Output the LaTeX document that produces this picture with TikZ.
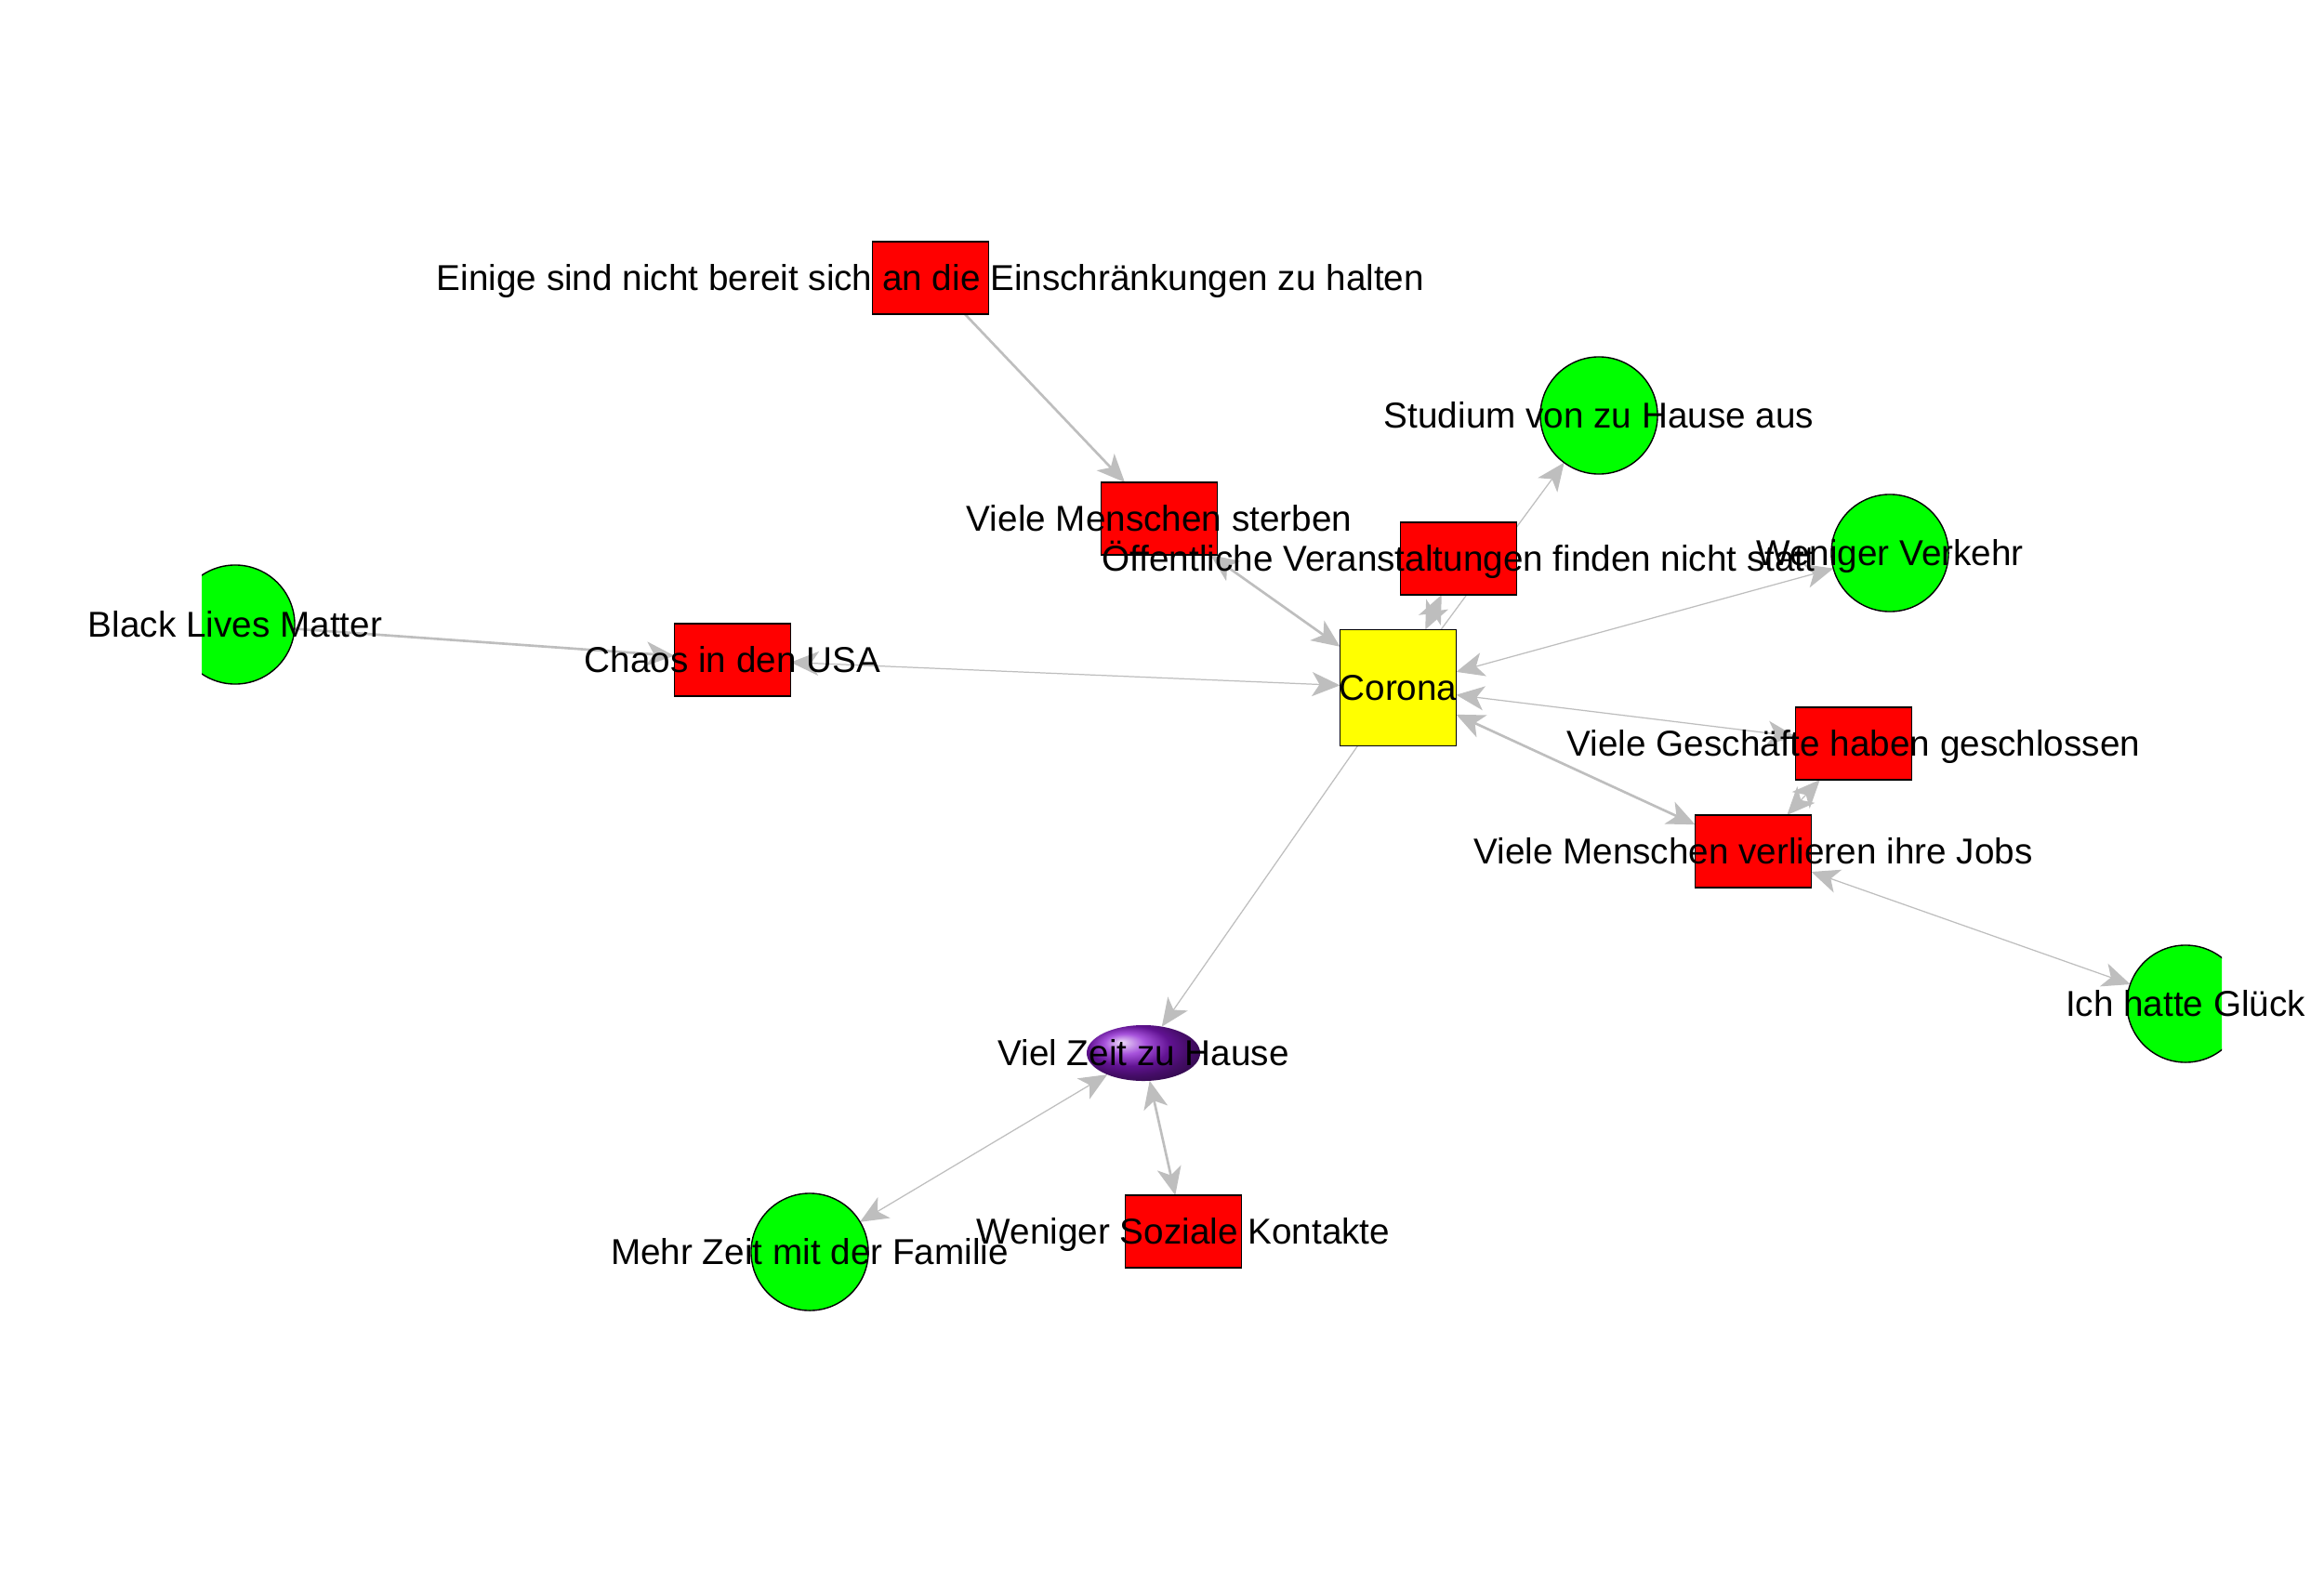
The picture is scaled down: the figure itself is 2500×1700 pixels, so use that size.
\documentclass[tikz,border=0pt]{standalone}
\usepackage{fontspec}
\setmainfont{Liberation Sans}
\usepackage{tikz}
\usetikzlibrary{arrows.meta,shapes.geometric,backgrounds}
\definecolor{edgegray}{HTML}{BEBEBE}
\definecolor{boxred}{HTML}{FF0000}
\definecolor{ballgreen}{HTML}{00FF00}
\definecolor{coronay}{HTML}{FFFF00}
\definecolor{sphere}{HTML}{8A1AD0}
\tikzset{
  vtx/.style={draw=black, line width=.4pt, inner sep=0pt, outer sep=0pt},
  boxr/.style={vtx, rectangle, fill=boxred, minimum width=1.25cm, minimum height=.78cm},
  boxy/.style={vtx, rectangle, fill=coronay, minimum width=1.25cm, minimum height=1.25cm},
  circg/.style={vtx, circle, fill=ballgreen, minimum size=1.26cm},
  sph/.style={ellipse, inner sep=0pt, outer sep=0pt, minimum width=1.22cm, minimum height=.6cm, ball color=sphere},
  txt/.style={font=\fontsize{11}{13}\selectfont, inner sep=0pt, text height=7.9pt, text depth=0pt},
  ar/.style={-{Stealth[length=3mm, width=2.6mm, inset=.8mm]}, draw=edgegray, line width=.35pt},
  arw/.style={ar, line width=.75pt},
  dar/.style={{Stealth[length=3mm, width=2.6mm, inset=.8mm]}-{Stealth[length=3mm, width=2.6mm, inset=.8mm]}, draw=edgegray, line width=.35pt},
  darw/.style={dar, line width=.75pt},
}
\begin{document}
\begin{tikzpicture}[x=0.01cm, y=-0.01cm]
    \useasboundingbox (0,0) rectangle (2500,1700);
    \begin{scope}
      \clip (217,0) rectangle (2390,1700);
      \node[boxr] (einige) at (1001,299) {};
      \node[boxr] (sterben) at (1247,558) {};
      \node[boxr] (oeff) at (1569,601) {};
      \node[circg] (studium) at (1720,447) {};
      \node[circg] (verkehr) at (2033,595) {};
      \node[circg, minimum size=1.28cm] (blm) at (253,672) {};
      \node[boxr] (chaos) at (788,710) {};
      \node[boxy] (corona) at (1504,740) {};
      \node[boxr] (laden) at (1994,800) {};
      \node[boxr] (jobs) at (1886,916) {};
      \node[circg] (glueck) at (2351,1080) {};
      \node[sph] (zeit) at (1230,1133) {};
      \node[circg] (familie) at (871,1347) {};
      \node[boxr] (kontakte) at (1273,1325) {};
    \end{scope}

    \begin{pgfonlayer}{background}
      \fill[white] (0,0) rectangle (2500,1700);
      \foreach \a/\b in {einige/sterben, blm/chaos}{\draw[arw] (\a)--(\b);}
      \foreach \a/\b in {corona/studium, corona/zeit}{\draw[ar] (\a)--(\b);}
      \foreach \a/\b in {sterben/corona, oeff/corona, corona/jobs, zeit/kontakte}{\draw[darw] (\a)--(\b);}
      \foreach \a/\b in {chaos/corona, corona/verkehr, corona/laden, laden/jobs, jobs/glueck, zeit/familie}{\draw[dar] (\a)--(\b);}
    \end{pgfonlayer}

    \foreach \n/\t in {einige/{Einige sind nicht bereit sich an die Einschränkungen zu halten},
      sterben/{Viele Menschen sterben}, oeff/{Öffentliche Veranstaltungen finden nicht statt},
      studium/{Studium von zu Hause aus}, verkehr/{Weniger Verkehr}, blm/{Black Lives Matter},
      chaos/{Chaos in den USA}, corona/{Corona}, laden/{Viele Geschäfte haben geschlossen},
      jobs/{Viele Menschen verlieren ihre Jobs}, glueck/{Ich hatte Glück}, zeit/{Viel Zeit zu Hause},
      familie/{Mehr Zeit mit der Familie}, kontakte/{Weniger Soziale Kontakte}}
      {\node[txt] (\n-t) at (\n) {\t};}
\end{tikzpicture}
\end{document}
